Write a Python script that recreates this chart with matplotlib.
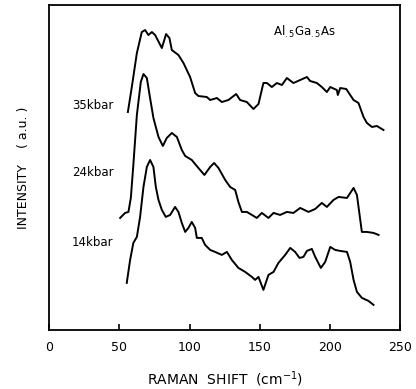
"""Raman spectra of Al.5Ga.5As at three pressures"""

import matplotlib
matplotlib.use("Agg")
import matplotlib.pyplot as plt

# 35 kbar
shift_35 = [56.1, 58.9, 62.5, 66.0, 68.4, 70.7, 73.2, 75.5, 80.3, 83.3, 85.7, 87.4,
            92.1, 95.7, 100.4, 104.0, 106.3, 112.3, 114.7, 119.5, 123.0, 127.7, 133.2,
            136.0, 140.8, 145.5, 149.1, 152.6, 155.1, 158.6, 162.2, 165.8, 169.3, 174.0,
            178.8, 183.6, 185.9, 190.7, 194.2, 197.8, 200.2, 204.9, 205.6, 207.3, 211.6,
            214.4, 216.8, 220.3, 223.9, 226.3, 229.9, 233.4, 238.1]
int_35 = [218, 243, 277, 298, 300, 295, 298, 295, 282, 296, 292, 280,
          275, 267, 253, 237, 234, 233, 230, 232, 228, 230, 236,
          230, 228, 221, 226, 247, 247, 243, 247, 245, 252, 247,
          250, 253, 249, 247, 243, 238, 243, 240, 235, 242, 241,
          235, 230, 227, 213, 207, 203, 204, 200]

# 24 kbar
shift_24 = [50.6, 54.1, 56.5, 58.2, 60.0, 62.5, 65.3, 67.2, 69.6, 71.9, 74.3, 77.9,
            81.0, 83.8, 87.4, 91.0, 94.5, 96.9, 101.6, 106.3, 110.6, 114.7, 117.5,
            120.6, 125.4, 128.9, 132.5, 134.8, 137.3, 140.8, 144.4, 147.9, 151.5, 156.2,
            159.8, 164.5, 169.3, 174.0, 178.8, 184.7, 189.5, 194.2, 197.8, 202.5, 206.1,
            212.1, 216.8, 219.2, 222.7, 226.3, 231.0, 234.6]
int_24 = [112, 117, 118, 132, 165, 215, 248, 256, 252, 232, 212, 193,
          184, 192, 197, 193, 180, 174, 170, 162, 155, 163, 167,
          162, 150, 143, 140, 128, 118, 118, 115, 112, 117, 112,
          117, 115, 118, 117, 122, 118, 121, 127, 123, 130, 133,
          132, 142, 135, 98, 98, 97, 95]

# 14 kbar
shift_14 = [55.3, 57.7, 60.0, 62.5, 64.8, 67.2, 69.6, 71.9, 74.3, 76.0, 77.9, 80.3,
            83.1, 86.2, 89.7, 92.1, 94.5, 96.9, 99.2, 101.6, 104.0, 105.2, 108.7,
            111.1, 114.7, 118.2, 123.0, 126.6, 130.1, 134.8, 139.6, 144.4, 146.7, 149.1,
            152.6, 156.2, 159.8, 163.3, 168.1, 171.7, 175.2, 178.3, 181.1, 183.6, 187.1,
            189.5, 193.5, 196.6, 200.2, 203.7, 207.3, 212.1, 214.4, 216.8, 219.2, 222.7,
            227.4, 231.0]
int_14 = [47, 70, 87, 93, 113, 143, 163, 170, 163, 143, 130, 120,
          113, 115, 123, 118, 107, 98, 102, 108, 102, 92, 92,
          85, 80, 78, 75, 78, 70, 62, 58, 53, 50, 53,
          40, 55, 58, 67, 75, 82, 78, 72, 73, 79, 81,
          73, 62, 68, 83, 80, 79, 78, 68, 50, 38, 32,
          29, 25]

labels = ["35kbar", "24kbar", "14kbar"]
label_y = [225, 157, 87]

fig = plt.figure(figsize=(4.16, 3.89), dpi=100)
ax = fig.add_axes([0.118, 0.152, 0.844, 0.835])

for xs, ys in [(shift_35, int_35), (shift_24, int_24), (shift_14, int_14)]:
    ax.plot(xs, ys, color="black", linewidth=1.4)

for lab, y in zip(labels, label_y):
    ax.text(31, y, lab, ha="center", va="center", fontsize=8.5)

ax.text(182, 298, r"Al$_{.5}$Ga$_{.5}$As", ha="center", va="center", fontsize=8.5)

ax.set_xlim(0, 250)
ax.set_ylim(0, 325)
ax.set_xticks([0, 50, 100, 150, 200, 250])
ax.set_yticks([])
ax.tick_params(axis="x", direction="in", length=4, width=1.2, labelsize=9, pad=8)
for sp in ax.spines.values():
    sp.set_linewidth(1.3)

ax.set_xlabel("RAMAN  SHIFT  (cm$^{-1}$)", fontsize=10, labelpad=11)
ax.set_ylabel("INTENSITY    ( a.u. )", fontsize=9, labelpad=14)

fig.savefig("out.png", dpi=100, facecolor="white")
